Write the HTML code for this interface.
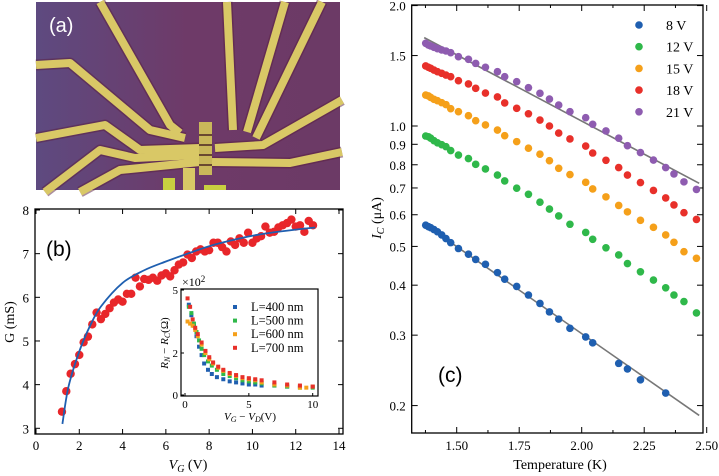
<!DOCTYPE html>
<html><head><meta charset="utf-8"><style>
html,body{margin:0;padding:0;background:#fff;}
svg{display:block;font-family:"Liberation Serif",serif;}
</style></head><body>
<svg id="fig" width="719" height="476" viewBox="0 0 719 476" xmlns="http://www.w3.org/2000/svg">
<g id="photo">
  <defs><linearGradient id="bg" x1="0" x2="1" y1="0" y2="0"><stop offset="0" stop-color="#5e4a80"/><stop offset="0.5" stop-color="#6e3a68"/><stop offset="1" stop-color="#6c3a66"/></linearGradient></defs>
  <rect x="36" y="2" width="304" height="188" fill="url(#bg)"/>
  <g fill="none" stroke="#5a2040" stroke-width="11" stroke-linejoin="round" opacity="0.5">
    <polyline points="100,2 170,125 180,133"/>
    <polyline points="36,65 70,63 150,130 185,138"/>
    <polyline points="36,138 105,125 140,150 200,148"/>
    <polyline points="45,192 100,150 135,158 200,155"/>
    <polyline points="80,192 120,170 200,162"/>
    <polyline points="227,2 233,130"/>
    <polyline points="285,2 247,132"/>
    <polyline points="322,2 256,138"/>
    <polyline points="342,100 263,145 215,148"/>
    <polyline points="342,152 290,163 212,162"/>
  </g>
  <g fill="none" stroke="#d9c866" stroke-width="8" stroke-linejoin="round">
    <polyline points="100,2 170,125 180,133"/>
    <polyline points="36,65 70,63 150,130 185,138"/>
    <polyline points="36,138 105,125 140,150 200,148"/>
    <polyline points="45,192 100,150 135,158 200,155"/>
    <polyline points="80,192 120,170 200,162"/>
    <polyline points="227,2 233,130"/>
    <polyline points="285,2 247,132"/>
    <polyline points="322,2 256,138"/>
    <polyline points="342,100 263,145 215,148"/>
    <polyline points="342,152 290,163 212,162"/>
  </g>
  <rect x="199" y="122" width="13" height="53" fill="#c9b85a"/>
  <g stroke="#6a4a30" stroke-width="2"><line x1="199" y1="135" x2="212" y2="135"/><line x1="199" y1="145" x2="212" y2="145"/><line x1="199" y1="155" x2="212" y2="155"/><line x1="199" y1="165" x2="212" y2="165"/></g>
  <rect x="163" y="178" width="12" height="12" fill="#c8d040"/>
  <rect x="183" y="168" width="12" height="22" fill="#d9c866"/>
  <rect x="204" y="185" width="22" height="5" fill="#c8d040"/>
  <text x="49" y="32" font-family="Liberation Sans,sans-serif" font-size="20" fill="#fff">(a)</text>
</g>
<g id="pb"></g>
<g id="pc"></g>
</svg>
<script>
// ---------- Panel (b) data ----------
const bV = [1.2,1.4,1.6,1.8,2.0,2.2,2.4,2.6,2.8,3.0,3.2,3.4,3.6,3.8,4.0,4.2,4.4,4.6,4.8,5.0,5.2,5.4,5.6,5.8,6.0,6.2,6.4,6.6,6.8,7.0,7.2,7.4,7.6,7.8,8.0,8.2,8.4,8.6,8.8,9.0,9.2,9.4,9.6,9.8,10.0,10.2,10.4,10.6,10.8,11.0,11.2,11.4,11.6,11.8,12.0,12.2,12.4,12.6,12.8];
const bG = [3.38,3.85,4.25,4.47,4.68,4.97,5.1,5.38,5.65,5.5,5.62,5.75,5.88,5.95,5.9,6.08,6.08,6.45,6.25,6.42,6.4,6.45,6.38,6.5,6.55,6.48,6.62,6.75,6.8,6.98,6.9,7.05,7.1,7.05,7.08,7.25,7.25,7.15,7.05,7.28,7.2,7.35,7.25,7.48,7.25,7.35,7.4,7.62,7.48,7.5,7.6,7.65,7.7,7.78,7.62,7.65,7.5,7.75,7.65];
const fitV = [1.22,1.5,2,2.5,3,4,5,6,7,8,9,10,11,12,12.9];
const fitG = [3.1,3.95,4.76,5.35,5.79,6.33,6.62,6.82,7.0,7.17,7.3,7.41,7.49,7.55,7.6];
const bXTicks = [0,2,4,6,8,10,12,14];
const bYTicks = [3,4,5,6,7,8];
// inset
const inNames = ["L=400 nm","L=500 nm","L=600 nm","L=700 nm"];
const inColors = ["#1f5fb0","#2fb84a","#f5a01a","#e8302a"];
const inX0 = [0.3,0.5,0.7,0.9,1.1,1.3,1.5,1.8,2.1,2.5,3,3.5,4,4.5,5,5.5,6,7,8,9,10];
const inY0 = [4.3,3.8,3.3,2.8,2.3,1.9,1.5,1.2,1.0,0.85,0.75,0.65,0.6,0.55,0.5,0.5,0.45,0.45,0.4,0.4,0.4];
const inX1 = [0.3,0.5,0.7,0.9,1.1,1.3,1.5,1.8,2.1,2.5,3,3.5,4,4.5,5,5.5,6,7,8,9,10];
const inY1 = [4.2,3.9,3.4,3.0,2.6,2.2,1.9,1.6,1.4,1.2,1.0,0.9,0.8,0.7,0.65,0.6,0.55,0.45,0.4,0.35,0.35];
const inX2 = [0.2,0.4,0.6,0.8,1.0,1.3,1.6,1.9,2.2,2.6,3,3.5,4,4.5,5,5.5,6,7,8,9,9.5,10];
const inY2 = [3.5,3.4,3.3,3.1,2.8,2.4,2.0,1.7,1.5,1.3,1.15,1.0,0.9,0.8,0.75,0.7,0.6,0.5,0.45,0.35,0.35,0.4];
const inX3 = [0.2,0.4,0.6,0.8,1.0,1.3,1.6,1.9,2.2,2.6,3,3.5,4,4.5,5,5.5,6,7,8,9,10];
const inY3 = [4.6,4.2,3.6,3.2,2.9,2.5,2.1,1.8,1.55,1.35,1.2,1.05,0.95,0.85,0.8,0.75,0.7,0.6,0.5,0.45,0.4];

// ---------- Panel (c) data ----------
const cT = [1.376,1.387,1.396,1.409,1.423,1.44,1.457,1.476,1.507,1.547,1.576,1.615,1.663,1.692,1.74,1.787,1.833,1.871,1.908,1.953,2.016,2.044,2.097,2.148,2.183,2.235,2.287,2.336,2.369,2.409,2.459];
const c21 = [1.61,1.594,1.585,1.573,1.561,1.549,1.54,1.525,1.49,1.468,1.434,1.402,1.367,1.328,1.291,1.247,1.207,1.168,1.128,1.086,1.049,1.01,0.972,0.932,0.893,0.858,0.822,0.787,0.759,0.725,0.694];
const c18 = [1.413,1.402,1.394,1.38,1.367,1.354,1.341,1.328,1.298,1.274,1.242,1.209,1.182,1.142,1.107,1.073,1.035,1.0,0.96,0.928,0.891,0.856,0.821,0.787,0.754,0.722,0.69,0.661,0.635,0.607,0.584];
const c15 = [1.195,1.189,1.179,1.166,1.157,1.144,1.131,1.105,1.086,1.061,1.031,1.006,0.977,0.946,0.914,0.88,0.85,0.819,0.784,0.756,0.723,0.696,0.665,0.633,0.61,0.581,0.558,0.534,0.512,0.485,0.467];
const c12 = [0.944,0.94,0.932,0.919,0.908,0.898,0.888,0.868,0.846,0.829,0.802,0.781,0.754,0.729,0.699,0.675,0.645,0.62,0.596,0.568,0.542,0.521,0.496,0.476,0.453,0.432,0.412,0.394,0.378,0.364,0.341];
const c8T = [1.376,1.387,1.396,1.409,1.423,1.44,1.457,1.476,1.507,1.547,1.576,1.615,1.663,1.692,1.74,1.787,1.833,1.871,1.908,1.953,2.016,2.044,2.148,2.183,2.235,2.336];
const c8 = [0.565,0.56,0.557,0.551,0.544,0.534,0.523,0.511,0.494,0.478,0.464,0.451,0.43,0.414,0.397,0.378,0.36,0.343,0.329,0.312,0.297,0.287,0.255,0.247,0.232,0.215];
const cLabels = ["8 V","12 V","15 V","18 V","21 V"];
const cColors = ["#1f5fb0","#2fb84a","#f5a01a","#e8302a","#8e5cb0"];
const fitAT = [1.37,2.47], fitAI = [1.663,0.719];
const fitBT = [1.37,2.47], fitBI = [0.569,0.189];
const cXTicks = [1.50,1.75,2.00,2.25,2.50];
const cYTicks = [0.2,0.3,0.4,0.5,0.6,0.7,0.8,0.9,1.0,1.5,2.0];

const NS = "http://www.w3.org/2000/svg";
function mk(parent, tag, attrs, text){
  const e = document.createElementNS(NS, tag);
  for (const k in attrs) e.setAttribute(k, attrs[k]);
  if (text !== undefined) e.textContent = text;
  parent.appendChild(e); return e;
}
function smoothPath(pts){
  let d = 'M'+pts[0][0]+','+pts[0][1];
  for (let i=0;i<pts.length-1;i++){
    const p0=pts[Math.max(0,i-1)], p1=pts[i], p2=pts[i+1], p3=pts[Math.min(pts.length-1,i+2)];
    const c1x=p1[0]+(p2[0]-p0[0])/6, c1y=p1[1]+(p2[1]-p0[1])/6;
    const c2x=p2[0]-(p3[0]-p1[0])/6, c2y=p2[1]-(p3[1]-p1[1])/6;
    d+=' C'+c1x+','+c1y+' '+c2x+','+c2y+' '+p2[0]+','+p2[1];
  }
  return d;
}

// ---------- draw (b) ----------
(function(){
  const g = document.getElementById('pb');
  const L=35,R=343,T=209,B=434;
  const xs = v => 36 + v*(339-36)/14;
  const ys = v => 428.3 - (v-3)*(428.3-210)/5;
  const frame = mk(g,'rect',{x:L,y:T,width:R-L,height:B-T,fill:'none',stroke:'#000','stroke-width':1.3});
  
  
  bXTicks.forEach(v=>{
    const x=xs(v);
    mk(g,'line',{x1:x,y1:B,x2:x,y2:B-5,stroke:'#000'});
    mk(g,'line',{x1:x,y1:T,x2:x,y2:T+5,stroke:'#000'});
    const t=mk(g,'text',{x:x,y:B+16,'font-size':13,'text-anchor':'middle'},String(v));
    
    
  });
  bYTicks.forEach(v=>{
    const y=ys(v);
    mk(g,'line',{x1:L,y1:y,x2:L+5,y2:y,stroke:'#000'});
    mk(g,'line',{x1:R,y1:y,x2:R-5,y2:y,stroke:'#000'});
    const t=mk(g,'text',{x:L-6,y:y+5,'font-size':13,'text-anchor':'end'},String(v));
    
    
  });
  bV.forEach((v,i)=>{
    const c=mk(g,'circle',{cx:xs(v),cy:ys(bG[i]),r:4.2,fill:'#e8262a'});
    
    
  });
  const fit=mk(g,'path',{d:smoothPath(fitV.map((v,i)=>[xs(v),ys(fitG[i])])),fill:'none',stroke:'#1f5fb0','stroke-width':1.8});
  
  
  const yl=mk(g,'text',{x:0,y:0,'font-size':14,'text-anchor':'middle',transform:'translate(14,322) rotate(-90)'},'G (mS)');
  
  
  const xl=mk(g,'text',{x:188,y:469,'font-size':14,'text-anchor':'middle'});
  
  
  mk(xl,'tspan',{'font-style':'italic'},'V');
  mk(xl,'tspan',{'font-style':'italic','font-size':10,dy:3},'G');
  mk(xl,'tspan',{dy:-3},' (V)');
  const lb=mk(g,'text',{x:46,y:256,'font-size':21,'font-family':'Liberation Sans,sans-serif'},'(b)');
  
  

  // inset
  const iL=181,iR=318,iT=289,iB=396;
  const ix = v => 185 + v*(312.7-185)/10;
  const iy = v => 395 - v*21;
  mk(g,'rect',{x:iL,y:iT,width:iR-iL,height:iB-iT,fill:'#fff',stroke:'none'});
  const sets=[[inX0,inY0],[inX1,inY1],[inX2,inY2],[inX3,inY3]];
  sets.forEach((s,k)=>{
    s[0].forEach((v,i)=>{
      const r=mk(g,'rect',{x:ix(v)-2,y:iy(s[1][i])-2,width:4,height:4,fill:inColors[k]});
      
      
    });
  });
  const ifr=mk(g,'rect',{x:iL,y:iT,width:iR-iL,height:iB-iT,fill:'none',stroke:'#000','stroke-width':1.2});
  
  
  [0,5,10].forEach(v=>{
    mk(g,'line',{x1:ix(v),y1:iB,x2:ix(v),y2:iB-3,stroke:'#000'});
    mk(g,'text',{x:ix(v),y:iB+12,'font-size':11,'text-anchor':'middle'},String(v));
  });
  [0,2,5].forEach(v=>{
    mk(g,'line',{x1:iL,y1:iy(v),x2:iL+3,y2:iy(v),stroke:'#000'});
    mk(g,'text',{x:iL-3,y:iy(v)+4,'font-size':11,'text-anchor':'end'},String(v));
  });
  const ex=mk(g,'text',{x:182,y:286,'font-size':12},'×10');
  mk(ex,'tspan',{'font-size':9,dy:-4},'2');
  const iyl=mk(g,'text',{x:0,y:0,'font-size':11,'text-anchor':'middle',transform:'translate(168,343) rotate(-90)'});
  
  
  mk(iyl,'tspan',{'font-style':'italic'},'R');
  mk(iyl,'tspan',{'font-style':'italic','font-size':8,dy:2},'N');
  mk(iyl,'tspan',{dy:-2},' − ');
  mk(iyl,'tspan',{'font-style':'italic'},'R');
  mk(iyl,'tspan',{'font-style':'italic','font-size':8,dy:2},'C');
  mk(iyl,'tspan',{dy:-2},'(Ω)');
  const ixl=mk(g,'text',{x:250,y:420,'font-size':11,'text-anchor':'middle'});
  
  
  mk(ixl,'tspan',{'font-style':'italic'},'V');
  mk(ixl,'tspan',{'font-style':'italic','font-size':8,dy:2},'G');
  mk(ixl,'tspan',{dy:-2},' − ');
  mk(ixl,'tspan',{'font-style':'italic'},'V');
  mk(ixl,'tspan',{'font-style':'italic','font-size':8,dy:2},'D');
  mk(ixl,'tspan',{dy:-2},'(V)');
  inNames.forEach((n,k)=>{
    const y=307+k*13.6;
    const m=mk(g,'rect',{x:233,y:y-2,width:4,height:4,fill:inColors[k]});
    
    
    const t=mk(g,'text',{x:251,y:y+4,'font-size':12.5},n);
    
    
  });
})();

// ---------- draw (c) ----------
(function(){
  const g=document.getElementById('pc');
  const L=411.7,R=703,T=5,B=433;
  const xs = v => 456.7 + (v-1.5)*250;
  const ys = v => 126 - Math.log10(v)*400;
  const fr=mk(g,'rect',{x:L,y:T,width:R-L,height:B-T,fill:'none',stroke:'#000','stroke-width':1.3});
  
  
  [1.375,1.625,1.875,2.125,2.375].forEach(v=>{
    mk(g,'line',{x1:xs(v),y1:B,x2:xs(v),y2:B-3,stroke:'#000'});
    mk(g,'line',{x1:xs(v),y1:T,x2:xs(v),y2:T+3,stroke:'#000'});
  });
  cXTicks.forEach(v=>{
    const x=xs(v);
    mk(g,'line',{x1:x,y1:B,x2:x,y2:B-6,stroke:'#000'});
    mk(g,'line',{x1:x,y1:T,x2:x,y2:T+6,stroke:'#000'});
    const t=mk(g,'text',{x:x,y:B+17,'font-size':13,'text-anchor':'middle'},v.toFixed(2));
    
    
  });
  cYTicks.forEach(v=>{
    const y=ys(v);
    mk(g,'line',{x1:L,y1:y,x2:L+6,y2:y,stroke:'#000'});
    mk(g,'line',{x1:R,y1:y,x2:R-6,y2:y,stroke:'#000'});
    const t=mk(g,'text',{x:L-6,y:y+5,'font-size':13,'text-anchor':'end'},v.toFixed(1));
    
    
  });
  const lA=mk(g,'line',{x1:xs(fitAT[0]),y1:ys(fitAI[0]),x2:xs(fitAT[1]),y2:ys(fitAI[1]),stroke:'#777','stroke-width':1.6});
  
  
  const lB=mk(g,'line',{x1:xs(fitBT[0]),y1:ys(fitBI[0]),x2:xs(fitBT[1]),y2:ys(fitBI[1]),stroke:'#777','stroke-width':1.6});
  
  
  const series=[[c8T,c8],[cT,c12],[cT,c15],[cT,c18],[cT,c21]];
  series.forEach((s,k)=>{
    s[0].forEach((t,i)=>{
      const c=mk(g,'circle',{cx:xs(t),cy:ys(s[1][i]),r:3.8,fill:cColors[k]});
      
      
    });
  });
  cLabels.forEach((n,k)=>{
    const y=25+k*21.7;
    const m=mk(g,'circle',{cx:639,cy:y,r:3.8,fill:cColors[k]});
    
    
    const t=mk(g,'text',{x:666,y:y+5,'font-size':14},n);
    
    
  });
  const yl=mk(g,'text',{x:0,y:0,'font-size':14,'text-anchor':'middle',transform:'translate(381,218) rotate(-90)'});
  
  
  mk(yl,'tspan',{'font-style':'italic'},'I');
  mk(yl,'tspan',{'font-style':'italic','font-size':10,dy:3},'C');
  mk(yl,'tspan',{dy:-3},' (μA)');
  const xl=mk(g,'text',{x:560,y:469,'font-size':14,'text-anchor':'middle'},'Temperature (K)');
  
  
  const lb=mk(g,'text',{x:438,y:382,'font-size':21,'font-family':'Liberation Sans,sans-serif'},'(c)');
  
  
})();
</script>
</body></html>
